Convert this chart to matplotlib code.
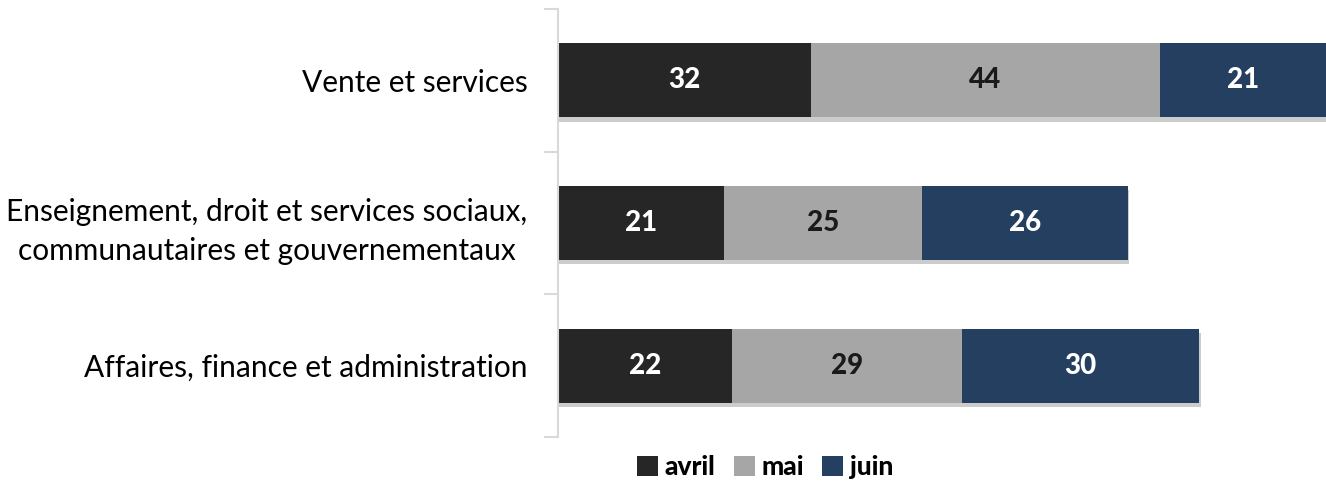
import numpy as np
import matplotlib.pyplot as plt
import matplotlib.patheffects as pe
from matplotlib.patches import Patch

plt.rcParams['font.family'] = ['Lato', 'DejaVu Sans']

#   Data
categories = ['Affaires, finance et administration',
              'Enseignement, droit et services sociaux,\ncommunautaires et gouvernementaux',
              'Vente et services']
series_names = ['avril', 'mai', 'juin']
avril = [22, 21, 32]
mai = [29, 25, 44]
juin = [30, 26, 21]
colors = ['#262626', '#A6A6A6', '#243F60']
labelColors = ['white', '#1A1A1A', 'white']

fig = plt.figure(figsize=(13.26, 4.82), dpi=100)
ax = fig.add_axes([558/1326, 45/482, 1 - 558/1326, 428/482])

yPos = np.arange(len(categories))
left = np.zeros(len(categories))
shadow = [pe.SimplePatchShadow(offset=(1, -3), shadow_rgbFace='#808080', alpha=0.4), pe.Normal()]
for name, vals, col, tcol in zip(series_names, [avril, mai, juin], colors, labelColors):
    bars = ax.barh(yPos, vals, left=left, height=0.52, color=col, label=name)
    for b in bars:
        b.set_path_effects(shadow)
    ax.bar_label(bars, labels=[str(v) for v in vals], label_type='center',
                 color=tcol, fontsize=20, fontweight='black')
    left += np.array(vals)

ax.set_xlim(0, 97)
ax.set_ylim(-0.5, 2.5)
ax.set_xticks([])
ax.set_yticks(yPos)
ax.set_yticklabels(categories, fontsize=21.5, color='black', multialignment='center',
                   linespacing=1.5)
ax.tick_params(axis='y', which='major', length=0, pad=22)
ax.set_yticks([-0.5, 0.5, 1.5, 2.5], minor=True)
ax.tick_params(axis='y', which='minor', length=10, width=1.5, color='#D9D9D9')
for s in ['top', 'right', 'bottom']:
    ax.spines[s].set_visible(False)
ax.spines['left'].set_color('#D9D9D9')
ax.spines['left'].set_linewidth(1.5)

handles = [Patch(facecolor=c, label=n) for n, c in zip(series_names, colors)]
fig.legend(handles=handles, loc='center', bbox_to_anchor=(765/1326, 15/482), ncol=3,
           frameon=False, prop={'size': 19, 'weight': 'black'},
           handlelength=0.8, handleheight=0.8, handletextpad=0.25, columnspacing=0.7)

fig.savefig('out.png', dpi=100)
